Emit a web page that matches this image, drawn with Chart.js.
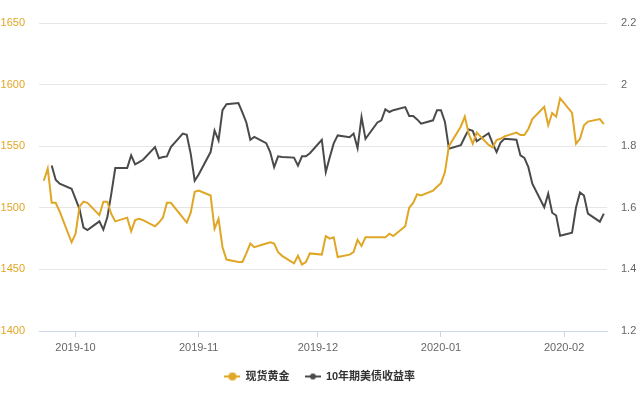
<!DOCTYPE html>
<html><head><meta charset="utf-8">
<script src="https://cdn.jsdelivr.net/npm/chart.js@4.4.1/dist/chart.umd.min.js"></script>
<style>html,body{margin:0;padding:0;background:#fff}#wrap{width:640px;height:400px}</style>
</head><body><div id="wrap"><canvas id="c" width="640" height="400"></canvas></div>
<script>
const dates = [
'2019-09-23','2019-09-24','2019-09-25','2019-09-26','2019-09-27','2019-09-30',
'2019-10-01','2019-10-02','2019-10-03','2019-10-04','2019-10-07','2019-10-08','2019-10-09','2019-10-10','2019-10-11',
'2019-10-14','2019-10-15','2019-10-16','2019-10-17','2019-10-18',
'2019-10-21','2019-10-22','2019-10-23','2019-10-24','2019-10-25',
'2019-10-28','2019-10-29','2019-10-30','2019-10-31','2019-11-01',
'2019-11-04','2019-11-05','2019-11-06','2019-11-07','2019-11-08',
'2019-11-11','2019-11-12','2019-11-13','2019-11-14','2019-11-15',
'2019-11-18','2019-11-19','2019-11-20','2019-11-21','2019-11-22',
'2019-11-25','2019-11-26','2019-11-27','2019-11-28','2019-11-29',
'2019-12-02','2019-12-03','2019-12-04','2019-12-05','2019-12-06',
'2019-12-09','2019-12-10','2019-12-11','2019-12-12','2019-12-13',
'2019-12-16','2019-12-17','2019-12-18','2019-12-19','2019-12-20',
'2019-12-23','2019-12-24','2019-12-25','2019-12-26','2019-12-27',
'2019-12-30','2019-12-31','2020-01-01','2020-01-02','2020-01-03',
'2020-01-06','2020-01-07','2020-01-08','2020-01-09','2020-01-10',
'2020-01-13','2020-01-14','2020-01-15','2020-01-16','2020-01-17',
'2020-01-20','2020-01-21','2020-01-22','2020-01-23','2020-01-24',
'2020-01-27','2020-01-28','2020-01-29','2020-01-30','2020-01-31',
'2020-02-03','2020-02-04','2020-02-05','2020-02-06','2020-02-07',
'2020-02-10','2020-02-11'
];
const gold = [
1522,1532,1504,1504,1497,1472,
1479,1501,1505,1504,1494,1505,1505,1495,1489,
1492,1481,1490,1491,1490,
1485,1488,1492,1504,1504,
1492,1488,1496,1513,1514,
1510,1483,1491,1468,1458,
1456,1456,1463,1471,1468,
1471,1472,1471,1464,1461,
1455,1461,1454,1456,1463,
1462,1477,1475,1476,1460,
1462,1464,1474,1469,1476,
1476,1476,1476,1479,1477,
1485,1500,1504,1511,1510,
1514,1517,1520,1529,1550,
1566,1574,1560,1552,1561,
1551,1549,1555,1556,1558,
1561,1559,1559,1564,1572,
1582,1567,1577,1574,1589,
1577,1552,1556,1567,1570,
1572,1568
];
const yield10 = [
null,null,1.737,1.691,1.678,1.662,
1.629,1.596,1.536,1.528,1.556,1.529,1.569,1.645,1.729,
1.729,1.770,1.741,1.748,1.756,
1.797,1.761,1.765,1.767,1.797,
1.841,1.837,1.775,1.688,1.708,
1.781,1.851,1.819,1.917,1.936,
1.940,1.910,1.877,1.821,1.830,
1.810,1.781,1.732,1.767,1.765,
1.763,1.737,1.767,1.767,1.777,
1.821,1.716,1.764,1.809,1.835,
1.829,1.841,1.794,1.895,1.824,
1.877,1.884,1.920,1.911,1.917,
1.927,1.898,1.898,1.887,1.873,
1.884,1.917,1.917,1.879,1.792,
1.803,1.830,1.854,1.850,1.816,
1.842,1.809,1.781,1.812,1.824,
1.821,1.770,1.762,1.732,1.678,
1.602,1.646,1.584,1.575,1.509,
1.519,1.601,1.650,1.640,1.581,
1.555,1.581
];
const monthTicks = ['2019-10-01','2019-11-01','2019-12-01','2020-01-01','2020-02-01'];
const monthLabels = ['2019-10','2019-11','2019-12','2020-01','2020-02'];
const goldLabel = '现货黄金';
const yieldLabel = '10年期美债收益率';

const GOLD = '#e0a626';
const DARK = '#4a4a4a';
const base = Date.UTC(2019, 9, 1);
function dayOf(s) {
  const p = s.split('-').map(Number);
  return (Date.UTC(p[0], p[1] - 1, p[2]) - base) / 86400000;
}
const xs = dates.map(dayOf);
const tickDays = monthTicks.map(dayOf);
const goldPts = xs.map((x, i) => ({x: x, y: gold[i]}));
const yieldPts = xs.map((x, i) => ({x: x, y: yield10[i]}));

function makeSymbol(color, r) {
  const c = document.createElement('canvas');
  c.width = 16; c.height = 10;
  const g = c.getContext('2d');
  g.strokeStyle = color; g.lineWidth = 2;
  g.beginPath(); g.moveTo(0, 5); g.lineTo(16, 5); g.stroke();
  g.fillStyle = color;
  g.beginPath(); g.arc(8, 5, r, 0, Math.PI * 2); g.fill();
  return c;
}
const symbols = [makeSymbol(GOLD, 4), makeSymbol(DARK, 3)];

Chart.defaults.font.family = "'Liberation Sans', 'Noto Sans CJK SC', sans-serif";
Chart.defaults.font.size = 11;

new Chart(document.getElementById('c'), {
  type: 'line',
  data: {
    datasets: [
      {label: goldLabel, data: goldPts, yAxisID: 'yL', borderColor: GOLD, backgroundColor: GOLD,
       borderWidth: 2, pointRadius: 0, tension: 0, spanGaps: true},
      {label: yieldLabel, data: yieldPts, yAxisID: 'yR', borderColor: DARK, backgroundColor: DARK,
       borderWidth: 2, pointRadius: 0, tension: 0, spanGaps: false}
    ]
  },
  options: {
    responsive: false,
    animation: false,
    devicePixelRatio: 1,
    layout: {padding: {top: 23, left: 0, right: 0, bottom: 8}},
    plugins: {
      tooltip: {enabled: false},
      legend: {
        position: 'bottom',
        labels: {
          usePointStyle: true,
          pointStyleWidth: 15,
          padding: 16,
          color: '#333',
          font: {size: 11, weight: 'bold', family: "'Liberation Sans', 'Noto Sans CJK SC', sans-serif"},
          generateLabels: (chart) => {
            const items = Chart.defaults.plugins.legend.labels.generateLabels(chart);
            items.forEach((it, i) => { it.pointStyle = symbols[i]; });
            return items;
          }
        }
      }
    },
    scales: {
      x: {
        type: 'linear',
        min: -9.2,
        max: 133.8,
        afterBuildTicks: (s) => { s.ticks = tickDays.map(v => ({value: v})); },
        afterFit: (s) => { s.height = 24; },
        ticks: {
          autoSkip: false, maxRotation: 0, color: '#666', padding: 4,
          callback: (v) => { const i = tickDays.indexOf(v); return i >= 0 ? monthLabels[i] : ''; }
        },
        grid: {drawOnChartArea: false, color: '#ccd6eb', tickLength: 6},
        border: {color: '#ccd6eb', width: 1}
      },
      yL: {
        position: 'left',
        min: 1400, max: 1650,
        afterFit: (s) => { s.width = 39; },
        ticks: {stepSize: 50, color: GOLD, padding: 14, callback: (v) => String(v)},
        grid: {color: '#e6e6e6', drawTicks: false},
        border: {display: false}
      },
      yR: {
        position: 'right',
        min: 1.2, max: 2.2,
        afterFit: (s) => { s.width = 33; },
        ticks: {stepSize: 0.2, color: '#666', padding: 14,
          callback: (v) => String(Math.round(v * 10) / 10)},
        grid: {display: false, drawTicks: false},
        border: {display: false}
      }
    }
  }
});
</script>
</body></html>
